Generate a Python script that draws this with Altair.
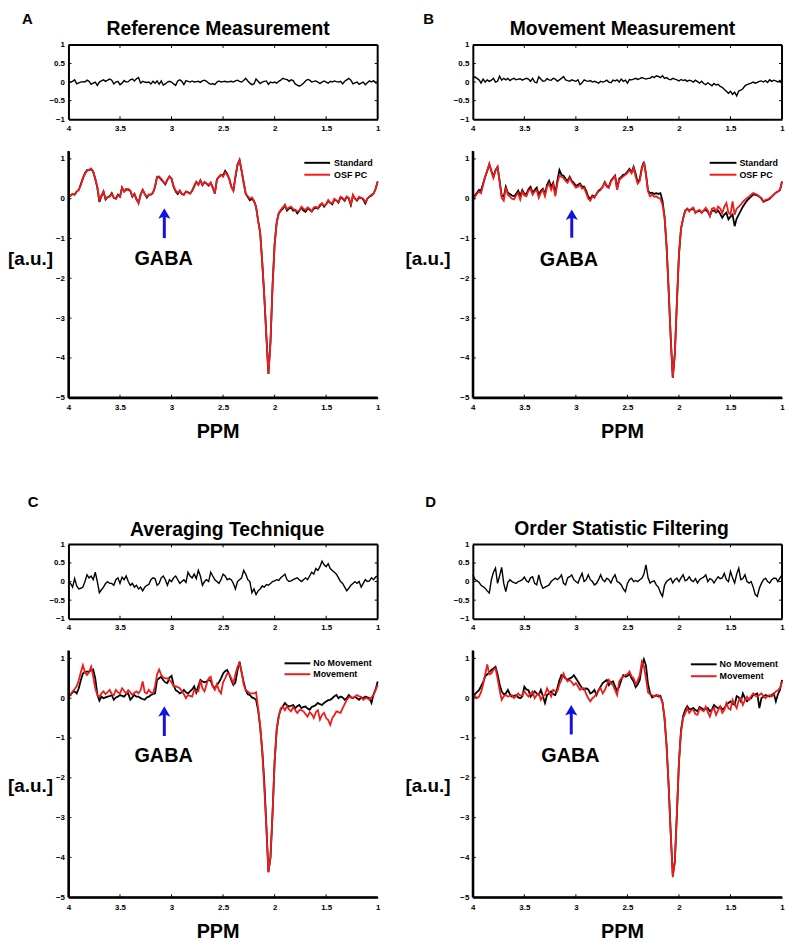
import altair as alt
import pandas as pd

# ---------------- data ----------------
PPM = [round(4 - 0.02 * i, 2) for i in range(151)]
X_TICKS = [4, 3.5, 3, 2.5, 2, 1.5, 1]
X_INNER = [3.5, 3, 2.5, 2, 1.5]
Y_SMALL = [-1, -0.5, 0, 0.5, 1]
Y_BIG = [-5, -4, -3, -2, -1, 0, 1]

A_DIFF = [0.0, 0.0, 0.02, 0.06, -0.05, -0.02, 0.0, 0.01, 0.0, 0.05,
          0.02, -0.06, -0.03, 0.0, -0.09, 0.0, 0.03, 0.06, 0.02, 0.05,
          0.08, 0.05, -0.05, 0.0, 0.02, -0.07, -0.03, 0.04, 0.0, 0.01,
          0.06, 0.08, 0.03, 0.09, 0.12, -0.03, 0.02, 0.0, -0.01, 0.0,
          -0.05, 0.02, -0.03, 0.03, -0.06, 0.03, -0.08, -0.05, 0.0, 0.02,
          0.0, -0.05, -0.09, 0.03, 0.06, 0.02, -0.07, 0.04, 0.02, 0.0,
          0.03, 0.0, 0.01, 0.02, -0.01, 0.03, 0.05, 0.02, -0.03, -0.06,
          -0.04, -0.07, 0.0, 0.03, 0.0, 0.01, 0.02, 0.0, 0.01, 0.02,
          0.0, 0.03, 0.05, 0.02, 0.0, 0.04, 0.1, 0.03, -0.03, -0.07,
          -0.05, 0.08, 0.02, -0.04, 0.0, 0.02, 0.03, -0.06, 0.0, -0.02,
          0.0, -0.03, 0.02, 0.05, 0.1, 0.08, 0.07, 0.02, 0.06, 0.04,
          -0.05, -0.08, -0.11, -0.08, -0.03, 0.03, 0.07, 0.05, 0.0, 0.02,
          0.03, 0.0, -0.04, 0.0, 0.03, 0.0, -0.03, 0.02, 0.0, 0.03,
          0.01, 0.0, 0.02, -0.05, 0.02, 0.06, 0.1, 0.05, -0.05, -0.02,
          0.0, -0.06, -0.03, 0.0, -0.07, -0.02, 0.03, 0.0, 0.04, -0.02, -0.03]

A_STANDARD = [0.05, 0.08, 0.12, 0.10, 0.18, 0.22, 0.36, 0.52, 0.64, 0.72,
              0.72, 0.75, 0.68, 0.50, 0.28, -0.08, 0.06, 0.18, -0.02, 0.04,
              0.06, 0.14, 0.02, 0.00, 0.10, 0.05, 0.28, 0.18, 0.24, 0.22,
              0.20, 0.05, 0.12, -0.02, -0.10, 0.10, 0.22, 0.12, 0.03, 0.10,
              0.10, 0.15, 0.30, 0.55, 0.54, 0.48, 0.42, 0.36, 0.48, 0.56,
              0.50, 0.30, 0.18, 0.12, 0.20, 0.12, 0.10, 0.18, 0.16, 0.13,
              0.20, 0.32, 0.42, 0.35, 0.46, 0.34, 0.42, 0.38, 0.33, 0.40,
              0.28, 0.13, 0.48, 0.55, 0.60, 0.58, 0.70, 0.62, 0.50, 0.30,
              0.20, 0.55, 0.85, 0.97, 0.70, 0.40, 0.12, 0.04, -0.04, 0.00,
              -0.06, -0.20, -0.55, -0.85, -1.60, -2.45, -3.45, -4.40, -3.60, -2.20,
              -1.15, -0.60, -0.37, -0.30, -0.25, -0.16, -0.30, -0.25, -0.22, -0.30,
              -0.28, -0.37, -0.30, -0.22, -0.30, -0.33, -0.24, -0.28, -0.32, -0.25,
              -0.22, -0.25, -0.18, -0.12, -0.20, -0.14, -0.06, -0.10, -0.14, -0.02,
              -0.05, -0.10, 0.04, 0.00, -0.05, 0.05, 0.00, -0.16, 0.08, 0.00,
              -0.05, 0.03, 0.02, -0.02, -0.12, 0.00, 0.05, 0.08, 0.13, 0.25, 0.43]

A_OSF = [0.05, 0.08, 0.12, 0.10, 0.18, 0.22, 0.35, 0.50, 0.62, 0.70,
         0.72, 0.76, 0.68, 0.50, 0.30, -0.03, 0.08, 0.18, 0.00, 0.04,
         0.05, 0.12, 0.03, 0.00, 0.08, 0.05, 0.28, 0.18, 0.22, 0.25,
         0.20, 0.06, 0.12, 0.00, -0.12, 0.10, 0.22, 0.12, 0.05, 0.10,
         0.10, 0.15, 0.30, 0.55, 0.56, 0.50, 0.43, 0.38, 0.48, 0.56,
         0.50, 0.32, 0.20, 0.15, 0.20, 0.12, 0.10, 0.18, 0.15, 0.13,
         0.20, 0.30, 0.42, 0.35, 0.46, 0.34, 0.42, 0.38, 0.35, 0.40,
         0.28, 0.13, 0.48, 0.55, 0.60, 0.55, 0.66, 0.60, 0.50, 0.30,
         0.20, 0.55, 0.85, 0.97, 0.70, 0.40, 0.13, 0.06, 0.00, 0.03,
         -0.05, -0.20, -0.55, -0.85, -1.60, -2.45, -3.45, -4.40, -3.60, -2.20,
         -1.15, -0.60, -0.37, -0.28, -0.22, -0.16, -0.26, -0.22, -0.20, -0.26,
         -0.28, -0.32, -0.30, -0.20, -0.25, -0.28, -0.22, -0.25, -0.32, -0.22,
         -0.20, -0.24, -0.15, -0.12, -0.18, -0.14, -0.03, -0.10, -0.12, 0.00,
         -0.05, -0.08, 0.05, 0.02, -0.03, 0.05, 0.02, -0.16, 0.10, 0.00,
         -0.03, 0.05, 0.02, 0.00, -0.08, 0.00, 0.05, 0.10, 0.13, 0.25, 0.43]

B_DIFF = [0.1, 0.14, 0.1, 0.06, -0.03, 0.08, 0.0, 0.06, 0.02, 0.05,
          0.1, 0.0, 0.02, 0.16, 0.05, 0.1, 0.06, 0.1, 0.04, 0.08,
          0.1, 0.06, 0.08, 0.09, 0.05, 0.08, 0.1, 0.08, 0.02, 0.1,
          0.0, -0.02, 0.14, 0.08, 0.02, 0.03, 0.09, 0.06, 0.05, 0.1,
          0.08, 0.02, 0.06, 0.1, 0.15, 0.06, 0.04, 0.02, 0.06, 0.04,
          0.02, 0.06, -0.07, -0.02, 0.06, 0.03, 0.02, 0.04, 0.0, 0.02,
          0.0, -0.03, 0.02, 0.0, 0.02, 0.05, 0.0, -0.02, 0.05, 0.03,
          0.06, 0.0, 0.08, 0.02, 0.05, -0.03, 0.07, 0.06, 0.08, 0.1,
          0.07, 0.09, 0.12, 0.1, 0.08, 0.1, 0.1, 0.15, 0.12, 0.17,
          0.15, 0.12, 0.17, 0.1, 0.12, 0.08, 0.06, 0.1, 0.08, 0.06,
          0.03, 0.07, 0.04, 0.06, 0.02, 0.05, 0.03, 0.0, 0.05, 0.01,
          -0.03, 0.02, -0.04, -0.07, -0.02, -0.06, -0.1, -0.04, -0.08, -0.06,
          -0.12, -0.14, -0.2, -0.25, -0.3, -0.25, -0.33, -0.27, -0.37, -0.24,
          -0.22, -0.18, -0.1, -0.07, -0.05, -0.03, 0.0, -0.03, -0.01, 0.02,
          0.03, 0.0, 0.04, -0.01, 0.06, 0.02, 0.05, 0.03, 0.0, 0.04, -0.05]

B_STANDARD = [-0.02, 0.08, 0.15, 0.22, 0.20, 0.38, 0.55, 0.70, 0.86, 0.70,
              0.55, 0.72, 0.80, 0.45, 0.08, 0.05, 0.30, 0.15, 0.12, 0.08,
              0.06, 0.12, 0.20, 0.08, 0.22, 0.12, 0.12, 0.24, 0.30, 0.15,
              0.22, 0.28, 0.10, 0.20, 0.25, 0.12, 0.35, 0.45, 0.30, 0.40,
              0.12, 0.45, 0.72, 0.60, 0.58, 0.50, 0.45, 0.55, 0.45, 0.40,
              0.32, 0.35, 0.38, 0.30, 0.30, 0.20, 0.05, 0.00, 0.08, 0.05,
              0.12, 0.20, 0.24, 0.30, 0.42, 0.32, 0.30, 0.45, 0.52, 0.58,
              0.25, 0.50, 0.55, 0.60, 0.62, 0.68, 0.75, 0.66, 0.80, 0.62,
              0.40, 0.50, 0.78, 0.93, 0.62, 0.20, 0.14, 0.15, 0.12, 0.14,
              0.12, 0.14, -0.05, -0.45, -1.20, -2.30, -3.50, -4.50, -3.90, -2.60,
              -1.40, -0.75, -0.50, -0.30, -0.25, -0.30, -0.27, -0.25, -0.35, -0.32,
              -0.30, -0.35, -0.30, -0.28, -0.33, -0.42, -0.30, -0.30, -0.35, -0.30,
              -0.38, -0.48, -0.40, -0.35, -0.52, -0.45, -0.40, -0.69, -0.50, -0.40,
              -0.30, -0.20, -0.12, -0.05, 0.00, 0.05, 0.10, 0.10, 0.08, 0.05,
              0.00, -0.08, -0.05, -0.03, 0.00, 0.05, 0.10, 0.15, 0.18, 0.22, 0.43]

B_OSF = [-0.05, 0.05, 0.12, 0.18, 0.14, 0.35, 0.55, 0.70, 0.88, 0.68,
         0.52, 0.70, 0.80, 0.43, 0.02, -0.05, 0.28, 0.10, 0.05, 0.00,
         -0.02, 0.08, 0.14, -0.02, 0.18, 0.08, 0.06, 0.20, 0.25, 0.10,
         0.18, 0.22, 0.02, 0.15, 0.22, 0.06, 0.30, 0.38, 0.22, 0.35,
         0.06, 0.38, 0.58, 0.55, 0.52, 0.45, 0.40, 0.52, 0.42, 0.35,
         0.28, 0.30, 0.35, 0.25, 0.27, 0.14, 0.00, -0.05, 0.06, 0.02,
         0.12, 0.18, 0.22, 0.30, 0.40, 0.30, 0.27, 0.43, 0.50, 0.56,
         0.22, 0.47, 0.52, 0.56, 0.60, 0.65, 0.72, 0.64, 0.77, 0.55,
         0.38, 0.45, 0.75, 0.92, 0.60, 0.18, 0.06, 0.10, 0.05, 0.06,
         0.02, 0.00, -0.15, -0.45, -1.20, -2.30, -3.50, -4.50, -3.90, -2.60,
         -1.40, -0.75, -0.50, -0.32, -0.25, -0.32, -0.25, -0.22, -0.36, -0.30,
         -0.28, -0.36, -0.30, -0.23, -0.30, -0.44, -0.25, -0.23, -0.32, -0.20,
         -0.25, -0.36, -0.20, -0.11, -0.35, -0.40, -0.07, -0.40, -0.25, -0.20,
         -0.15, -0.08, -0.03, 0.02, 0.05, 0.10, 0.14, 0.12, 0.10, 0.05,
         0.02, -0.07, -0.03, -0.02, 0.02, 0.05, 0.10, 0.15, 0.18, 0.22, 0.43]

C_DIFF = [0.0, -0.05, -0.15, 0.08, -0.12, -0.2, -0.18, -0.15, 0.0, 0.18,
          0.1, 0.15, 0.05, 0.25, 0.0, -0.3, -0.22, -0.15, -0.05, 0.0,
          -0.05, -0.05, -0.1, 0.05, 0.1, -0.05, 0.12, 0.05, 0.15, 0.0,
          -0.1, -0.05, -0.15, -0.1, -0.2, -0.15, -0.25, -0.15, -0.1, -0.08,
          0.05, 0.1, 0.08, -0.1, -0.05, 0.1, 0.15, 0.05, -0.1, 0.05,
          0.0, 0.1, 0.15, 0.05, -0.05, 0.0, 0.05, -0.02, 0.25, 0.15,
          0.1, 0.2, 0.08, 0.3, 0.15, -0.1, 0.0, 0.05, 0.0, 0.25,
          0.15, 0.05, 0.0, -0.05, 0.05, 0.2, 0.15, 0.05, 0.08, 0.05,
          -0.05, -0.2, 0.0, 0.05, 0.1, 0.3, 0.2, 0.05, 0.0, -0.3,
          -0.2, -0.35, -0.25, -0.2, -0.12, -0.15, -0.08, -0.1, -0.05, 0.0,
          0.02, 0.05, 0.03, 0.1, 0.15, 0.2, 0.05, 0.0, 0.02, 0.05,
          0.08, 0.1, 0.05, 0.0, 0.05, 0.1, 0.05, 0.15, 0.25, 0.2,
          0.35, 0.3, 0.4, 0.55, 0.45, 0.4, 0.48, 0.35, 0.3, 0.25,
          0.2, 0.1, 0.0, -0.05, -0.15, -0.25, -0.18, -0.1, -0.05, 0.0,
          -0.05, 0.0, -0.15, -0.05, 0.05, 0.0, 0.02, 0.1, 0.05, 0.12, 0.15]

C_NO_MOVE = [0.04, 0.08, 0.15, 0.17, 0.12, 0.25, 0.45, 0.62, 0.66, 0.67,
             0.67, 0.70, 0.72, 0.50, 0.10, -0.06, 0.04, 0.00, 0.02, 0.04,
             0.05, 0.08, -0.04, 0.02, 0.04, 0.08, 0.06, 0.04, 0.10, 0.12,
             -0.04, 0.02, 0.08, 0.04, 0.04, 0.00, -0.02, -0.04, 0.02, 0.04,
             0.08, 0.10, 0.12, 0.46, 0.50, 0.54, 0.45, 0.40, 0.38, 0.52,
             0.56, 0.33, 0.20, 0.17, 0.12, 0.15, 0.21, 0.15, 0.12, 0.17,
             0.22, 0.30, 0.14, 0.30, 0.46, 0.42, 0.40, 0.42, 0.46, 0.44,
             0.30, 0.25, 0.33, 0.40, 0.50, 0.62, 0.68, 0.71, 0.60, 0.45,
             0.33, 0.40, 0.70, 0.92, 0.65, 0.40, 0.20, 0.10, 0.08, 0.02,
             0.00, -0.04, -0.30, -0.72, -1.30, -2.10, -3.20, -4.37, -4.00, -2.90,
             -1.60, -0.80, -0.45, -0.28, -0.21, -0.12, -0.18, -0.21, -0.19, -0.17,
             -0.25, -0.20, -0.17, -0.25, -0.22, -0.21, -0.26, -0.29, -0.22, -0.20,
             -0.17, -0.12, -0.15, -0.17, -0.12, -0.08, -0.05, -0.04, 0.00, 0.05,
             0.08, 0.00, 0.04, 0.02, -0.04, 0.00, 0.08, 0.02, 0.00, 0.04,
             0.00, -0.04, 0.02, 0.00, 0.04, 0.02, 0.00, -0.12, 0.10, 0.22, 0.42]

C_MOVE = [0.04, 0.10, 0.17, 0.23, 0.30, 0.45, 0.65, 0.83, 0.65, 0.58,
          0.65, 0.79, 0.55, 0.25, 0.08, 0.04, 0.12, 0.17, 0.10, 0.15,
          0.21, 0.10, 0.08, 0.21, 0.15, 0.12, 0.25, 0.18, 0.12, 0.20,
          0.15, 0.08, 0.14, 0.17, 0.12, 0.20, 0.42, 0.15, 0.12, 0.21,
          0.15, 0.12, 0.30, 0.60, 0.72, 0.58, 0.52, 0.50, 0.50, 0.46,
          0.40, 0.30, 0.30, 0.28, 0.25, 0.18, 0.10, 0.00, 0.08, 0.06,
          0.04, 0.20, 0.18, 0.17, 0.45, 0.25, 0.17, 0.35, 0.50, 0.54,
          0.30, 0.21, 0.35, 0.20, 0.12, 0.40, 0.50, 0.62, 0.60, 0.50,
          0.38, 0.60, 0.79, 0.88, 0.65, 0.35, 0.20, 0.17, 0.12, 0.12,
          0.12, 0.15, -0.25, -0.70, -1.35, -2.25, -3.25, -4.37, -4.00, -2.90,
          -1.60, -0.80, -0.45, -0.25, -0.21, -0.30, -0.20, -0.28, -0.33, -0.22,
          -0.30, -0.37, -0.30, -0.30, -0.33, -0.40, -0.46, -0.35, -0.40, -0.50,
          -0.35, -0.30, -0.54, -0.42, -0.37, -0.50, -0.55, -0.67, -0.50, -0.42,
          -0.33, -0.35, -0.37, -0.25, -0.15, -0.04, 0.02, 0.04, 0.00, 0.04,
          0.08, 0.05, 0.03, -0.04, 0.00, 0.00, -0.04, 0.02, 0.08, 0.20, 0.33]

D_DIFF = [0.18, 0.06, 0.02, -0.02, -0.1, -0.14, -0.18, -0.25, -0.31, 0.05,
          0.25, 0.36, -0.05, 0.15, 0.38, -0.05, -0.27, -0.02, 0.05, 0.0,
          -0.03, -0.05, 0.0, 0.02, 0.05, 0.12, 0.02, -0.02, 0.1, 0.13,
          -0.05, -0.09, 0.18, -0.05, -0.18, -0.15, -0.12, -0.09, 0.0, 0.05,
          0.09, 0.05, 0.1, 0.18, -0.05, -0.09, 0.1, 0.13, 0.18, 0.05,
          0.0, -0.04, 0.1, 0.22, 0.0, 0.05, 0.18, 0.05, 0.0, -0.09,
          -0.05, 0.05, 0.18, 0.05, 0.0, 0.09, 0.05, -0.04, 0.1, 0.18,
          0.0, -0.03, -0.09, -0.2, -0.27, -0.05, 0.05, 0.09, 0.0, 0.03,
          0.0, 0.05, 0.09, 0.2, 0.45, 0.1, -0.04, 0.0, 0.02, -0.09,
          -0.15, -0.3, -0.4, -0.1, 0.0, 0.05, 0.09, -0.04, 0.05, 0.09,
          0.0, 0.1, 0.18, 0.02, 0.05, 0.13, 0.03, 0.0, 0.08, -0.04,
          0.05, 0.09, 0.12, 0.18, 0.0, 0.08, 0.05, -0.04, 0.05, 0.13,
          0.08, 0.1, 0.22, 0.05, 0.0, 0.27, 0.1, -0.04, 0.2, 0.36,
          0.05, 0.08, 0.18, 0.0, -0.04, 0.0, -0.15, -0.35, -0.4, -0.18,
          -0.05, 0.05, 0.09, 0.0, -0.04, 0.05, 0.09, 0.09, 0.0, 0.1, 0.18]

D_NO_MOVE = [0.04, 0.10, 0.15, 0.20, 0.30, 0.40, 0.55, 0.60, 0.65, 0.71,
             0.75, 0.79, 0.60, 0.35, 0.17, 0.10, 0.12, 0.21, 0.10, 0.04,
             0.06, 0.08, 0.02, 0.00, 0.04, 0.29, 0.22, 0.20, 0.04, 0.10,
             0.17, 0.12, 0.08, 0.21, 0.05, -0.12, 0.08, 0.12, 0.17, 0.10,
             0.08, 0.25, 0.45, 0.58, 0.55, 0.50, 0.46, 0.50, 0.52, 0.58,
             0.50, 0.42, 0.33, 0.25, 0.21, 0.25, 0.22, 0.12, 0.15, 0.21,
             0.08, 0.20, 0.29, 0.38, 0.42, 0.46, 0.33, 0.40, 0.42, 0.30,
             0.17, 0.29, 0.45, 0.58, 0.54, 0.56, 0.62, 0.50, 0.42, 0.28,
             0.35, 0.46, 0.80, 0.98, 0.82, 0.35, 0.12, 0.02, 0.05, 0.08,
             0.04, 0.06, -0.10, -0.50, -1.20, -2.20, -3.40, -4.45, -4.10, -2.90,
             -1.60, -0.80, -0.45, -0.30, -0.20, -0.28, -0.27, -0.25, -0.30, -0.33,
             -0.22, -0.25, -0.29, -0.27, -0.25, -0.33, -0.28, -0.17, -0.22, -0.25,
             -0.21, -0.28, -0.25, -0.17, -0.12, -0.08, -0.14, -0.17, 0.05, 0.02,
             -0.08, 0.12, 0.00, -0.08, -0.02, 0.00, 0.08, 0.10, 0.12, -0.25,
             0.00, 0.04, 0.08, 0.06, 0.04, 0.08, 0.12, -0.08, 0.10, 0.21, 0.46]

D_MOVE = [0.00, 0.06, 0.00, 0.04, 0.15, 0.35, 0.60, 0.85, 0.60, 0.62,
          0.72, 0.75, 0.50, 0.20, -0.04, 0.05, 0.08, 0.04, 0.06, 0.08,
          0.00, 0.05, 0.12, 0.06, 0.08, 0.17, 0.10, 0.04, 0.12, 0.17,
          0.00, 0.08, 0.12, -0.04, 0.05, 0.08, 0.25, 0.15, 0.04, 0.21,
          0.18, 0.17, 0.35, 0.46, 0.62, 0.50, 0.42, 0.46, 0.40, 0.33,
          0.38, 0.30, 0.21, 0.25, 0.25, 0.10, 0.00, -0.08, 0.00, 0.04,
          0.12, 0.20, 0.25, 0.12, 0.20, 0.33, 0.46, 0.38, 0.33, 0.20,
          0.08, 0.42, 0.50, 0.54, 0.58, 0.60, 0.67, 0.55, 0.50, 0.35,
          0.45, 0.58, 0.92, 0.80, 0.50, 0.15, 0.10, 0.08, 0.04, 0.06,
          0.08, 0.02, -0.10, -0.50, -1.20, -2.20, -3.40, -4.50, -4.10, -2.90,
          -1.60, -0.85, -0.50, -0.38, -0.25, -0.37, -0.30, -0.29, -0.40, -0.42,
          -0.25, -0.30, -0.33, -0.21, -0.35, -0.46, -0.30, -0.25, -0.42, -0.30,
          -0.21, -0.37, -0.30, -0.12, -0.25, -0.29, -0.04, -0.15, -0.25, -0.05,
          0.00, -0.17, -0.05, 0.04, -0.04, 0.05, 0.12, 0.06, 0.04, 0.08,
          0.12, 0.06, 0.00, 0.05, 0.08, 0.04, 0.10, 0.17, 0.20, 0.25, 0.42]

# ---------------- style ----------------
FONT = "Liberation Sans"
W = 312
H_SMALL = 75
H_BIG = 249
RED = "#ee1c1c"
BLUE = "#1212e6"
ARROW_SHAPE = "M0,-1L-1,0.75L0,0.35L1,0.75Z"
Y_BIG_MIN, Y_BIG_MAX = -5, 1.2

AX = dict(title=None, grid=False, ticks=False, tickSize=0, domain=True,
          domainColor="black", domainWidth=2, labelFont=FONT,
          labelFontWeight="bold", labelFontSize=8, labelColor="black",
          labelFlush=False, labelOverlap=False, format="~g", zindex=2)


def x_scale():
    return alt.Scale(domain=[1, 4], reverse=True, nice=False, zero=False)


def txt(s, x, y, size, align="center", baseline="alphabetic", color="black"):
    return alt.Chart(pd.DataFrame({"label": [s]})).mark_text(
        font=FONT, fontWeight="bold", fontSize=size, align=align,
        baseline=baseline, color=color,
    ).encode(text="label:N", x=alt.value(x), y=alt.value(y))


def small_panel(diff, title, tx, ty, letter, lx, ly):
    xs = x_scale()
    ys = alt.Scale(domain=[-1, 1], nice=False, zero=False)
    xa = alt.Axis(values=X_TICKS, labelPadding=5, **AX)
    ya = alt.Axis(values=Y_SMALL, labelPadding=4, **AX)
    df = pd.DataFrame({"ppm": PPM, "val": diff})
    line = alt.Chart(df).mark_line(color="black", strokeWidth=1.4).encode(
        x=alt.X("ppm:Q", scale=xs, axis=xa),
        y=alt.Y("val:Q", scale=ys, axis=ya),
    )
    xt = pd.DataFrame({"ppm": X_INNER})
    yt = pd.DataFrame({"val": [-0.5, 0, 0.5]})
    rule = dict(color="black", strokeWidth=1)
    tb = alt.Chart(xt).mark_rule(**rule).encode(
        x=alt.X("ppm:Q", scale=xs, axis=xa), y=alt.value(H_SMALL), y2=alt.value(H_SMALL - 3))
    tt = alt.Chart(xt).mark_rule(**rule).encode(
        x=alt.X("ppm:Q", scale=xs, axis=xa), y=alt.value(0), y2=alt.value(3))
    tl = alt.Chart(yt).mark_rule(**rule).encode(
        y=alt.Y("val:Q", scale=ys, axis=ya), x=alt.value(0), x2=alt.value(3))
    tr = alt.Chart(yt).mark_rule(**rule).encode(
        y=alt.Y("val:Q", scale=ys, axis=ya), x=alt.value(W), x2=alt.value(W - 3))
    edge_r = alt.Chart(pd.DataFrame({"ppm": [1], "lo": [-1], "hi": [1]})).mark_rule(
        color="black", strokeWidth=2).encode(
        x=alt.X("ppm:Q", scale=xs, axis=xa),
        y=alt.Y("lo:Q", scale=ys, axis=ya), y2="hi:Q")
    edge_t = alt.Chart(pd.DataFrame({"a": [4], "b": [1], "val": [1]})).mark_rule(
        color="black", strokeWidth=2).encode(
        x=alt.X("a:Q", scale=xs, axis=xa), x2="b:Q",
        y=alt.Y("val:Q", scale=ys, axis=ya))
    return alt.layer(
        line, tb, tt, tl, tr, edge_r, edge_t,
        txt(title, tx, ty, 19.5),
        txt(letter, lx, ly, 15, align="left"),
    ).properties(width=W, height=H_SMALL)


def big_panel(black, red, names, leg, gaba, arrow, au):
    xs = x_scale()
    ys = alt.Scale(domain=[Y_BIG_MIN, Y_BIG_MAX], nice=False, zero=False)
    xa = alt.Axis(values=X_TICKS, labelPadding=6, **AX)
    ya = alt.Axis(values=Y_BIG, labelPadding=4, **AX)
    df = pd.DataFrame({"ppm": PPM, "black": black, "red": red})
    lb = alt.Chart(df).mark_line(color="black", strokeWidth=1.8).encode(
        x=alt.X("ppm:Q", scale=xs, axis=xa),
        y=alt.Y("black:Q", scale=ys, axis=ya),
    )
    lr = alt.Chart(df).mark_line(color=RED, strokeWidth=1.8).encode(
        x=alt.X("ppm:Q", scale=xs, axis=xa),
        y=alt.Y("red:Q", scale=ys, axis=ya),
    )
    rule = dict(color="black", strokeWidth=1)
    tb = alt.Chart(pd.DataFrame({"ppm": X_INNER})).mark_rule(**rule).encode(
        x=alt.X("ppm:Q", scale=xs, axis=xa), y=alt.value(H_BIG), y2=alt.value(H_BIG - 3))
    tl = alt.Chart(pd.DataFrame({"black": [-4, -3, -2, -1, 0, 1]})).mark_rule(**rule).encode(
        y=alt.Y("black:Q", scale=ys, axis=ya), x=alt.value(0), x2=alt.value(3))
    ax_l = alt.Chart(pd.DataFrame({"ppm": [4], "lo": [Y_BIG_MIN], "hi": [Y_BIG_MAX]})).mark_rule(
        color="black", strokeWidth=2.2).encode(
        x=alt.X("ppm:Q", scale=xs, axis=xa),
        y=alt.Y("lo:Q", scale=ys, axis=ya), y2="hi:Q")
    ax_b = alt.Chart(pd.DataFrame({"a": [4], "b": [1], "black": [Y_BIG_MIN]})).mark_rule(
        color="black", strokeWidth=2.2).encode(
        x=alt.X("a:Q", scale=xs, axis=xa), x2="b:Q",
        y=alt.Y("black:Q", scale=ys, axis=ya))

    gdf = pd.DataFrame({"ppm": [gaba[0]], "val": [gaba[1]], "label": ["GABA"]})
    gt = alt.Chart(gdf).mark_text(font=FONT, fontWeight="bold", fontSize=20,
                                  align="center", baseline="middle", color="black").encode(
        x=alt.X("ppm:Q", scale=xs, axis=xa),
        y=alt.Y("val:Q", scale=ys, axis=ya), text="label:N")

    ax, tip, tail = arrow
    adf = pd.DataFrame({"ppm": [ax], "tail": [tail], "neck": [tip - 0.19], "head": [tip - 0.152]})
    shaft = alt.Chart(adf).mark_rule(color=BLUE, strokeWidth=3).encode(
        x=alt.X("ppm:Q", scale=xs, axis=xa),
        y=alt.Y("tail:Q", scale=ys, axis=ya), y2="neck:Q")
    head = alt.Chart(adf).mark_point(shape=ARROW_SHAPE, filled=True, color=BLUE,
                                     opacity=1, size=150, strokeWidth=0).encode(
        x=alt.X("ppm:Q", scale=xs, axis=xa),
        y=alt.Y("head:Q", scale=ys, axis=ya))

    lx1, lx2, ltx, ly1, ly2 = leg
    one = pd.DataFrame({"a": [0]})
    r1 = alt.Chart(one).mark_rule(color="black", strokeWidth=2).encode(
        x=alt.value(lx1), x2=alt.value(lx2), y=alt.value(ly1))
    r2 = alt.Chart(one).mark_rule(color=RED, strokeWidth=2).encode(
        x=alt.value(lx1), x2=alt.value(lx2), y=alt.value(ly2))
    t1 = txt(names[0], ltx, ly1, 9, align="left", baseline="middle")
    t2 = txt(names[1], ltx, ly2, 9, align="left", baseline="middle")

    au_t = txt("[a.u.]", au[0], au[1], 19, align="left", baseline="middle")
    ppm_t = txt("PPM", 151, H_BIG + 41, 20)
    return alt.layer(lb, lr, tb, tl, ax_l, ax_b, gt, shaft, head, r1, r2, t1, t2, au_t, ppm_t
                     ).properties(width=W, height=H_BIG)


def spacer():
    return alt.Chart(pd.DataFrame({"a": [0]})).mark_point(opacity=0).encode(
        x=alt.value(0), y=alt.value(0)).properties(width=W, height=84)


small_a = small_panel(A_DIFF, "Reference Measurement", 151, -10, "A", -47, -21)
small_b = small_panel(B_DIFF, "Movement Measurement", 151, -10, "B", -50, -21)
small_c = small_panel(C_DIFF, "Averaging Technique", 160, -8, "C", -41, -38)
small_d = small_panel(D_DIFF, "Order Statistic Filtering", 150, -9, "D", -48, -38)

big_a = big_panel(A_STANDARD, A_OSF, ["Standard", "OSF PC"], (238, 264, 268, 12, 24),
                  (3.077, -1.52), (3.07, -0.24, -0.99), (-61, 109))
big_b = big_panel(B_STANDARD, B_OSF, ["Standard", "OSF PC"], (239, 266, 269, 12, 24),
                  (3.067, -1.53), (3.04, -0.27, -0.98), (-68, 109))
big_c = big_panel(C_NO_MOVE, C_MOVE, ["No Movement", "Movement"], (218, 244, 247, 13, 24),
                  (3.077, -1.45), (3.07, -0.20, -0.95), (-61, 137))
big_d = big_panel(D_NO_MOVE, D_MOVE, ["No Movement", "Movement"], (220, 246, 249, 14, 26),
                  (3.053, -1.45), (3.045, -0.17, -0.91), (-68, 137))

chart = alt.concat(
    small_a, small_b, big_a, big_b, spacer(), spacer(),
    small_c, small_d, big_c, big_d,
    columns=2,
    spacing=alt.RowColnumber(row=32, column=96),
    bounds="flush",
).properties(padding=0, background="white").configure_view(stroke=None)

chart.save("out.html", embed_options={"renderer": "svg", "actions": False})
